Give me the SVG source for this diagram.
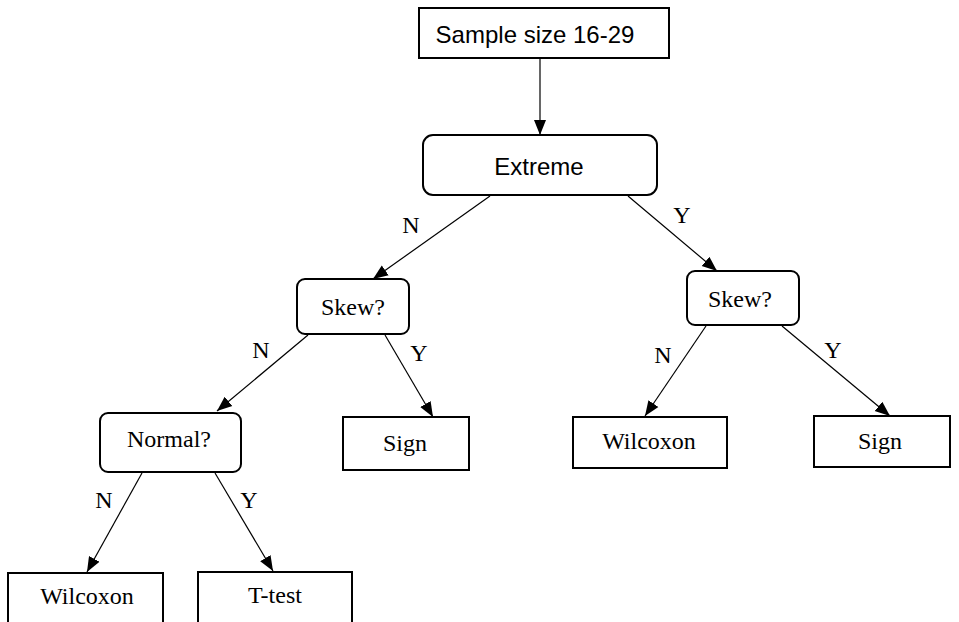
<svg xmlns="http://www.w3.org/2000/svg" width="959" height="622" viewBox="0 0 959 622">
<style>
.box{fill:#fff;stroke:#000;stroke-width:2}
.edge{stroke:#000;stroke-width:1.2;fill:none;marker-end:url(#arr)}
.sans{font-family:"Liberation Sans",Arial,sans-serif;font-size:24px;fill:#000;text-anchor:middle}
.serif{font-family:"Liberation Serif","Times New Roman",serif;font-size:24px;fill:#000;text-anchor:middle}
.lbl{font-family:"Liberation Serif","Times New Roman",serif;font-size:24px;fill:#000;text-anchor:middle}
</style>
<defs>
<marker id="arr" markerUnits="userSpaceOnUse" markerWidth="16" markerHeight="14" viewBox="0 0 16 14" refX="15" refY="7" orient="auto">
<path d="M0,1 L15,7 L0,13 Z" fill="#000"/>
</marker>
</defs>
<rect width="959" height="622" fill="#fff"/>
<g id="connectors">
<line class="edge" x1="540" y1="58" x2="540" y2="135"/>
<line class="edge" x1="490" y1="196" x2="373" y2="279"/>
<line class="edge" x1="628" y1="196" x2="717" y2="271"/>
<line class="edge" x1="308" y1="335" x2="217" y2="411"/>
<line class="edge" x1="385" y1="335" x2="433" y2="417"/>
<line class="edge" x1="706" y1="326" x2="645" y2="416"/>
<line class="edge" x1="782" y1="326" x2="890" y2="416"/>
<line class="edge" x1="142" y1="473" x2="87" y2="572"/>
<line class="edge" x1="215" y1="473" x2="273" y2="571"/>
<text class="lbl" x="411" y="233">N</text>
<text class="lbl" x="682" y="223">Y</text>
<text class="lbl" x="261" y="358">N</text>
<text class="lbl" x="419" y="361">Y</text>
<text class="lbl" x="663" y="363">N</text>
<text class="lbl" x="833" y="358">Y</text>
<text class="lbl" x="104" y="508">N</text>
<text class="lbl" x="249" y="508">Y</text>
</g>
<g id="sample">
<rect class="box" x="419" y="8" width="250" height="50"/>
<text class="sans" x="535" y="43">Sample size 16-29</text>
</g>
<g id="extreme">
<rect class="box" x="423" y="135" width="234" height="60" rx="10"/>
<text class="sans" x="539" y="175">Extreme</text>
</g>
<g id="skewL">
<rect class="box" x="297" y="279" width="112" height="55" rx="8"/>
<text class="serif" x="353" y="315">Skew?</text>
</g>
<g id="skewR">
<rect class="box" x="687" y="271" width="112" height="54" rx="8"/>
<text class="serif" x="740" y="307">Skew?</text>
</g>
<g id="normal">
<rect class="box" x="100" y="413" width="141" height="59" rx="8"/>
<text class="serif" x="169" y="447">Normal?</text>
</g>
<g id="signL">
<rect class="box" x="343" y="417" width="126" height="53"/>
<text class="serif" x="405" y="451">Sign</text>
</g>
<g id="wilcoxonR">
<rect class="box" x="573" y="417" width="154" height="51"/>
<text class="serif" x="649" y="449">Wilcoxon</text>
</g>
<g id="signR">
<rect class="box" x="814" y="416" width="136" height="51"/>
<text class="serif" x="880" y="449">Sign</text>
</g>
<g id="wilcoxonL">
<rect class="box" x="8" y="573" width="155" height="60"/>
<text class="serif" x="87" y="604">Wilcoxon</text>
</g>
<g id="ttest">
<rect class="box" x="198" y="572" width="154" height="60"/>
<text class="serif" x="275" y="603">T-test</text>
</g>
</svg>
